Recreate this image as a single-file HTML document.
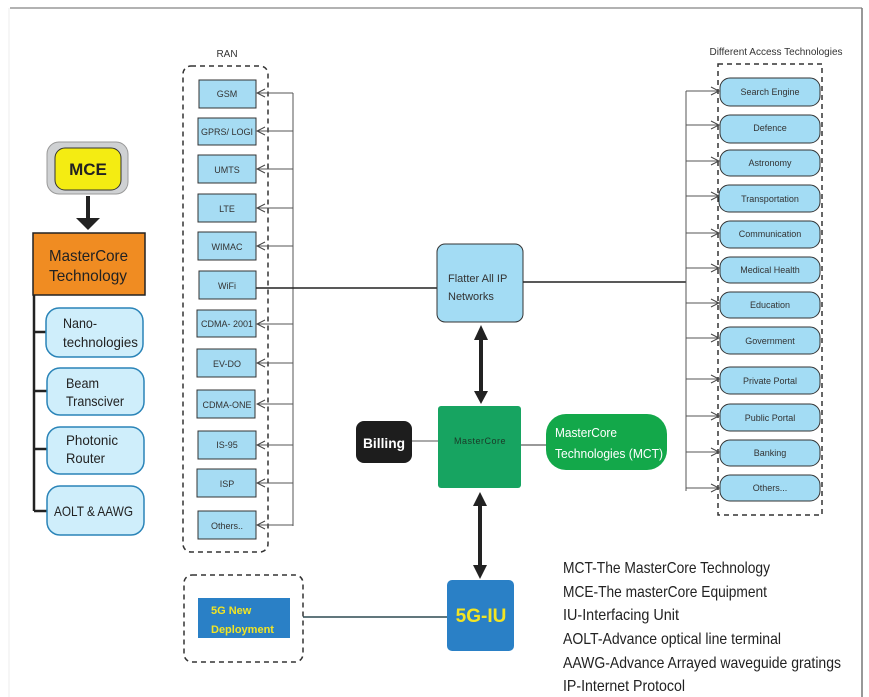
<!DOCTYPE html>
<html><head><meta charset="utf-8"><style>
html,body{margin:0;padding:0;background:#fff}
svg{display:block;font-family:"Liberation Sans",sans-serif}
</style></head><body>
<svg width="869" height="697" viewBox="0 0 869 697" xmlns="http://www.w3.org/2000/svg">
<defs>
<marker id="oa" markerWidth="10" markerHeight="10" refX="9" refY="5" orient="auto" markerUnits="userSpaceOnUse"><path d="M1,1 L9,5 L1,9" fill="none" stroke="#444" stroke-width="1"/></marker>
</defs>
<rect width="869" height="697" fill="#fff"/>
<line x1="10" y1="8" x2="862" y2="8" stroke="#999" stroke-width="1.5"/>
<line x1="862" y1="8" x2="862" y2="697" stroke="#777" stroke-width="1.5"/>
<line x1="9" y1="8" x2="9" y2="697" stroke="#eee" stroke-width="1"/>

<!-- left column -->
<rect x="47" y="142" width="81" height="52" rx="12" fill="#cfd1d3" stroke="#999"/>
<rect x="55" y="148" width="66" height="42" rx="10" fill="#f4ec12" stroke="#333"/>
<text x="88" y="175" font-size="17" font-weight="bold" text-anchor="middle" fill="#222">MCE</text>
<line x1="88" y1="196" x2="88" y2="220" stroke="#222" stroke-width="4"/>
<path d="M76,218 L100,218 L88,230 z" fill="#222"/>
<rect x="33" y="233" width="112" height="62" fill="#f08c22" stroke="#222" stroke-width="1.5"/>
<text x="49" y="261" font-size="16" fill="#222" textLength="79" lengthAdjust="spacingAndGlyphs">MasterCore</text>
<text x="49" y="281" font-size="16" fill="#222" textLength="78" lengthAdjust="spacingAndGlyphs">Technology</text>
<line x1="34" y1="295" x2="34" y2="511" stroke="#222" stroke-width="2.5"/>
<g stroke="#222" stroke-width="2.5">
<line x1="34" y1="332" x2="47" y2="332"/><line x1="34" y1="391" x2="47" y2="391"/>
<line x1="34" y1="449" x2="47" y2="449"/><line x1="34" y1="511" x2="47" y2="511"/></g>
<g fill="#cfeefb" stroke="#2a84b8" stroke-width="1.5">
<rect x="46" y="308" width="97" height="49" rx="13"/>
<rect x="47" y="368" width="97" height="47" rx="13"/>
<rect x="47" y="427" width="97" height="47" rx="13"/>
<rect x="47" y="486" width="97" height="49" rx="13"/>
</g>
<g font-size="14" fill="#222">
<text x="63" y="328" textLength="34" lengthAdjust="spacingAndGlyphs">Nano-</text><text x="63" y="347" textLength="75" lengthAdjust="spacingAndGlyphs">technologies</text>
<text x="66" y="388" textLength="33" lengthAdjust="spacingAndGlyphs">Beam</text><text x="66" y="406" textLength="58" lengthAdjust="spacingAndGlyphs">Transciver</text>
<text x="66" y="445" textLength="52" lengthAdjust="spacingAndGlyphs">Photonic</text><text x="66" y="463" textLength="39" lengthAdjust="spacingAndGlyphs">Router</text>
<text x="54" y="516" textLength="79" lengthAdjust="spacingAndGlyphs">AOLT &amp; AAWG</text>
</g>

<!-- RAN -->
<text x="227" y="57" font-size="10" text-anchor="middle" fill="#333">RAN</text>
<rect x="183" y="66" width="85" height="486" rx="8" fill="none" stroke="#333" stroke-width="1.5" stroke-dasharray="5,4"/>
<line x1="293" y1="93" x2="293" y2="526" stroke="#555" stroke-width="1"/>
<g fill="#a6dcf3" stroke="#333" stroke-width="1">
<rect x="199" y="80" width="57" height="28"/><rect x="198" y="118" width="58" height="27"/>
<rect x="198" y="155" width="58" height="28"/><rect x="198" y="194" width="58" height="28"/>
<rect x="198" y="232" width="58" height="28"/><rect x="199" y="271" width="57" height="28"/>
<rect x="197" y="310" width="59" height="27"/><rect x="197" y="349" width="59" height="28"/>
<rect x="197" y="390" width="58" height="28"/><rect x="198" y="431" width="58" height="28"/>
<rect x="197" y="469" width="59" height="28"/><rect x="198" y="511" width="58" height="28"/>
</g>
<g stroke="#555" stroke-width="1" marker-end="url(#oa)">
<line x1="293" y1="93" x2="257" y2="93"/><line x1="293" y1="131" x2="257" y2="131"/>
<line x1="293" y1="169" x2="257" y2="169"/><line x1="293" y1="208" x2="257" y2="208"/>
<line x1="293" y1="246" x2="257" y2="246"/><line x1="293" y1="324" x2="257" y2="324"/>
<line x1="293" y1="363" x2="257" y2="363"/><line x1="293" y1="404" x2="257" y2="404"/>
<line x1="293" y1="445" x2="257" y2="445"/><line x1="293" y1="483" x2="257" y2="483"/>
<line x1="293" y1="525" x2="257" y2="525"/>
</g>
<line x1="256" y1="288" x2="437" y2="288" stroke="#222" stroke-width="1.5"/>
<g font-size="9" fill="#333" text-anchor="middle">
<text x="227" y="97">GSM</text><text x="227" y="135">GPRS/ LOGI</text>
<text x="227" y="173">UMTS</text><text x="227" y="212">LTE</text>
<text x="227" y="250">WIMAC</text><text x="227" y="289">WiFi</text>
<text x="227" y="327">CDMA- 2001</text><text x="227" y="367">EV-DO</text>
<text x="227" y="408">CDMA-ONE</text><text x="227" y="448">IS-95</text>
<text x="227" y="487">ISP</text><text x="227" y="529">Others..</text>
</g>

<!-- center -->
<rect x="437" y="244" width="86" height="78" rx="8" fill="#a3dcf4" stroke="#333" stroke-width="1"/>
<text x="448" y="282" font-size="11" fill="#333">Flatter All IP</text>
<text x="448" y="300" font-size="11" fill="#333">Networks</text>
<line x1="523" y1="282" x2="686" y2="282" stroke="#222" stroke-width="1.5"/>

<line x1="481" y1="335" x2="481" y2="396" stroke="#222" stroke-width="4"/>
<path d="M474,340 L481,325 L488,340 z" fill="#222"/><path d="M474,391 L481,404 L488,391 z" fill="#222"/>
<line x1="480" y1="500" x2="480" y2="570" stroke="#222" stroke-width="4"/>
<path d="M473,506 L480,492 L487,506 z" fill="#222"/><path d="M473,565 L480,579 L487,565 z" fill="#222"/>

<rect x="438" y="406" width="83" height="82" rx="3" fill="#17a461"/>
<text x="480" y="444" font-size="9" fill="#1a3a28" text-anchor="middle" letter-spacing="0.5">MasterCore</text>
<line x1="412" y1="441" x2="438" y2="441" stroke="#555" stroke-width="1"/>
<line x1="521" y1="445" x2="547" y2="445" stroke="#333" stroke-width="1"/>
<rect x="356" y="421" width="56" height="42" rx="8" fill="#1d1d1d"/>
<text x="384" y="448" font-size="14" font-weight="bold" fill="#fff" text-anchor="middle" textLength="42" lengthAdjust="spacingAndGlyphs">Billing</text>
<rect x="546" y="414" width="121" height="56" rx="20" fill="#13a84a"/>
<text x="555" y="437" font-size="13" fill="#fff" textLength="62" lengthAdjust="spacingAndGlyphs">MasterCore</text>
<text x="555" y="458" font-size="13" fill="#fff" textLength="108" lengthAdjust="spacingAndGlyphs">Technologies (MCT)</text>

<rect x="447" y="580" width="67" height="71" rx="5" fill="#2a80c6"/>
<text x="481" y="622" font-size="19" font-weight="bold" fill="#f2e424" text-anchor="middle">5G-IU</text>
<rect x="184" y="575" width="119" height="87" rx="8" fill="none" stroke="#333" stroke-width="1.5" stroke-dasharray="5,4"/>
<rect x="198" y="598" width="92" height="40" fill="#2a80c6"/>
<text x="211" y="614" font-size="11" font-weight="bold" fill="#f2e424">5G New</text>
<text x="211" y="633" font-size="11" font-weight="bold" fill="#f2e424">Deployment</text>
<line x1="303" y1="617" x2="447" y2="617" stroke="#2d4a52" stroke-width="1.5"/>

<!-- right -->
<text x="776" y="55" font-size="10" fill="#333" text-anchor="middle">Different Access Technologies</text>
<rect x="718" y="64" width="104" height="451" fill="none" stroke="#333" stroke-width="1.5" stroke-dasharray="5,4"/>
<line x1="686" y1="91" x2="686" y2="491" stroke="#555" stroke-width="1"/>
<g fill="#a3dcf4" stroke="#333" stroke-width="1">
<rect x="720" y="78" width="100" height="28" rx="10"/><rect x="720" y="115" width="100" height="28" rx="10"/>
<rect x="720" y="150" width="100" height="26" rx="10"/><rect x="719" y="185" width="101" height="27" rx="10"/>
<rect x="720" y="221" width="100" height="27" rx="10"/><rect x="720" y="257" width="100" height="26" rx="10"/>
<rect x="720" y="292" width="100" height="26" rx="10"/><rect x="720" y="327" width="100" height="27" rx="10"/>
<rect x="720" y="367" width="100" height="27" rx="10"/><rect x="720" y="404" width="100" height="27" rx="10"/>
<rect x="720" y="440" width="100" height="26" rx="10"/><rect x="720" y="475" width="100" height="26" rx="10"/>
</g>
<g stroke="#555" stroke-width="1" marker-end="url(#oa)">
<line x1="686" y1="91" x2="719" y2="91"/><line x1="686" y1="125" x2="719" y2="125"/>
<line x1="686" y1="161" x2="719" y2="161"/><line x1="686" y1="196" x2="719" y2="196"/>
<line x1="686" y1="233" x2="719" y2="233"/><line x1="686" y1="268" x2="719" y2="268"/>
<line x1="686" y1="303" x2="719" y2="303"/><line x1="686" y1="338" x2="719" y2="338"/>
<line x1="686" y1="379" x2="719" y2="379"/><line x1="686" y1="416" x2="719" y2="416"/>
<line x1="686" y1="452" x2="719" y2="452"/><line x1="686" y1="488" x2="719" y2="488"/>
</g>
<g font-size="9" fill="#333" text-anchor="middle">
<text x="770" y="95">Search Engine</text><text x="770" y="131">Defence</text>
<text x="770" y="166">Astronomy</text><text x="770" y="202">Transportation</text>
<text x="770" y="237">Communication</text><text x="770" y="273">Medical Health</text>
<text x="770" y="308">Education</text><text x="770" y="344">Government</text>
<text x="770" y="384">Private Portal</text><text x="770" y="421">Public Portal</text>
<text x="770" y="456">Banking</text><text x="770" y="491">Others...</text>
</g>

<!-- legend -->
<g font-size="16" fill="#222">
<text x="563" y="573" textLength="207" lengthAdjust="spacingAndGlyphs">MCT-The MasterCore Technology</text>
<text x="563" y="597" textLength="204" lengthAdjust="spacingAndGlyphs">MCE-The masterCore Equipment</text>
<text x="563" y="620" textLength="116" lengthAdjust="spacingAndGlyphs">IU-Interfacing Unit</text>
<text x="563" y="644" textLength="218" lengthAdjust="spacingAndGlyphs">AOLT-Advance optical line terminal</text>
<text x="563" y="668" textLength="278" lengthAdjust="spacingAndGlyphs">AAWG-Advance Arrayed waveguide gratings</text>
<text x="563" y="691" textLength="122" lengthAdjust="spacingAndGlyphs">IP-Internet Protocol</text>
</g>
</svg>
</body></html>
